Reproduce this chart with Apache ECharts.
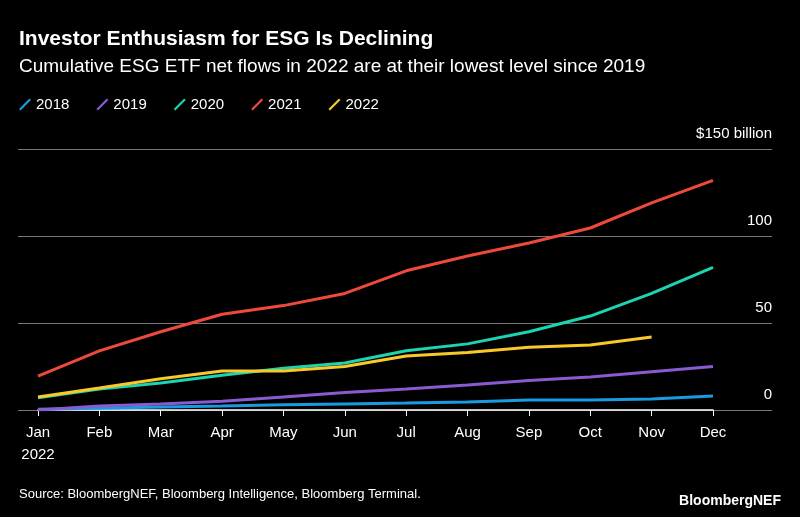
<!DOCTYPE html>
<html>
<head>
<meta charset="utf-8">
<script src="https://cdn.jsdelivr.net/npm/echarts@6/dist/echarts.min.js"></script>
<style>html,body{margin:0;background:#000}#container{width:800px;height:517px}</style>
</head>
<body>
<div id="container"></div>
<script>
let dom = document.getElementById("container");
let myChart = echarts.init(dom);

const months = ['Jan\n2022', 'Feb', 'Mar', 'Apr', 'May', 'Jun', 'Jul', 'Aug', 'Sep', 'Oct', 'Nov', 'Dec'];
const flows = {
    '2018': [0.5, 1, 1.7, 2.3, 3, 3.5, 4, 4.6, 5.7, 5.7, 6.3, 8],
    '2019': [0, 2.3, 3.5, 5, 7.5, 10, 12, 14.4, 17, 19, 22, 25],
    '2020': [7, 12, 15.5, 20, 24, 27, 34, 38, 45, 54, 67, 82],
    '2021': [19.5, 34, 45, 55, 60, 67, 80, 88.5, 96, 104.6, 119, 132],
    '2022': [7.5, 12.6, 18, 22.4, 22.4, 25, 31, 33, 36, 37.4, 42]
};
const colors = {'2018': '#1a9ae0', '2019': '#8a5bd0', '2020': '#1dd3b0', '2021': '#ee4a3b', '2022': '#f9c92a'};
const icon = 'path://M0,10 L10,0 L11.5,1.5 L1.5,11.5 Z';

let option = {
    backgroundColor: '#000',
    title: [
        {text: 'Investor Enthusiasm for ESG Is Declining', left: 14, top: 24,
            textStyle: {color: '#fff', fontSize: 21, fontWeight: 'bold', fontFamily: 'Liberation Sans'}},
        {text: 'Cumulative ESG ETF net flows in 2022 are at their lowest level since 2019', left: 14, top: 52,
            textStyle: {color: '#fff', fontSize: 19, fontWeight: 'normal', fontFamily: 'Liberation Sans'}},
        {text: 'Source: BloombergNEF, Bloomberg Intelligence, Bloomberg Terminal.', left: 14, top: 483,
            textStyle: {color: '#fff', fontSize: 13, fontWeight: 'normal', fontFamily: 'Liberation Sans'}},
        {text: 'BloombergNEF', right: 14, top: 489,
            textStyle: {color: '#fff', fontSize: 14, fontWeight: 'bold', fontFamily: 'Liberation Sans'}}
    ],
    legend: {
        left: 14, top: 92, itemWidth: 12, itemHeight: 12, itemGap: 27,
        icon: icon,
        data: Object.keys(flows),
        textStyle: {color: '#fff', fontSize: 15, fontFamily: 'Liberation Sans'}
    },
    grid: [
        {left: 18, right: 28, top: 149, bottom: 107},
        {left: 38, right: 87, top: 149, bottom: 107}
    ],
    xAxis: [
        {gridIndex: 0, type: 'category', data: months, show: false},
        {gridIndex: 1, type: 'category', data: months, boundaryGap: false,
            axisLine: {lineStyle: {color: '#fff', width: 1.5}},
            axisTick: {show: true, alignWithLabel: true, length: 6, lineStyle: {color: '#fff'}},
            axisLabel: {color: '#fff', fontSize: 15, margin: 12, lineHeight: 22,
                fontFamily: 'Liberation Sans', align: 'center'}}
    ],
    yAxis: [
        {gridIndex: 0, type: 'value', min: 0, max: 150, interval: 50, position: 'right',
            axisLine: {show: false}, axisTick: {show: false},
            splitLine: {lineStyle: {color: '#777', width: 1}},
            axisLabel: {inside: true, color: '#fff', fontSize: 15, verticalAlign: 'bottom', margin: 0,
                padding: [0, 0, 8, 0], fontFamily: 'Liberation Sans',
                formatter: v => v === 150 ? '$150 billion' : v}},
        {gridIndex: 1, type: 'value', min: 0, max: 150, interval: 50, show: false}
    ],
    series: Object.keys(flows).map(k => ({
        name: k, type: 'line', xAxisIndex: 1, yAxisIndex: 1,
        data: flows[k], showSymbol: false, smooth: false,
        lineStyle: {color: colors[k], width: 3},
        itemStyle: {color: colors[k]}
    }))
};
myChart.setOption(option, true);
</script>
</body>
</html>
